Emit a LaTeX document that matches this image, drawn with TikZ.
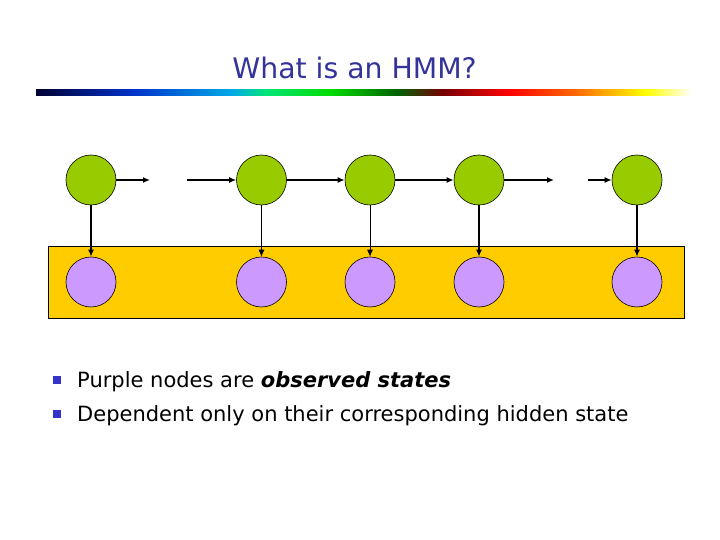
\documentclass[tikz,border=0pt]{standalone}
\usepackage{fontspec}
\setmainfont{DejaVu Sans}
\usetikzlibrary{arrows.meta}
\definecolor{hidgreen}{HTML}{99CC00}
\definecolor{obspurple}{HTML}{CC99FF}
\definecolor{boxyellow}{HTML}{FFCC00}
\definecolor{titleblue}{HTML}{333399}
\definecolor{bulletblue}{HTML}{3333CC}
\pgfdeclarehorizontalshading{rainbowbar}{100bp}{%
rgb(0bp)=(0,0,0.2);
rgb(25bp)=(0,0,0.2);
rgb(32.5bp)=(0,0.2,0.8);
rgb(40bp)=(0,0.67,0.9);
rgb(42.5bp)=(0,0.9,0.47);
rgb(47.5bp)=(0,0.86,0);
rgb(52.5bp)=(0,0.39,0);
rgb(56bp)=(0.47,0,0);
rgb(61bp)=(1,0,0);
rgb(66bp)=(1,0.4,0);
rgb(71.5bp)=(1,1,0);
rgb(75bp)=(1,1,1);
rgb(100bp)=(1,1,1)}
\tikzset{
  hid/.style={circle, draw=black, fill=hidgreen, minimum size=50pt, inner sep=0pt, line width=0.6pt},
  obs/.style={circle, draw=black, fill=obspurple, minimum size=50pt, inner sep=0pt, line width=0.6pt},
  thickarr/.style={-{Latex[length=7pt,width=6pt]}, line width=1.8pt},
  thinarr/.style={-{Latex[length=7pt,width=6pt]}, line width=0.8pt},
  bulletsq/.style={rectangle, fill=bulletblue, minimum size=8pt, inner sep=0pt},
  bodytext/.style={anchor=base west, inner sep=0pt, font=\fontsize{21}{25}\selectfont},
}
\begin{document}
\begin{tikzpicture}[x=1pt,y=-1pt]
\useasboundingbox (0,0) rectangle (720,540);
\node[text=titleblue, font=\fontsize{28.3}{32}\selectfont] (title) at (354.5,68) {What is an HMM?};
\shade[shading=rainbowbar] (36,90) rectangle (692,96);
\node[draw=black, fill=boxyellow, line width=0.8pt, minimum width=636pt, minimum height=72pt, inner sep=0pt] (band) at (366,282) {};
\node[hid] (h1) at (91,180) {};
\node[hid] (h2) at (261.5,180) {};
\node[hid] (h3) at (370,180) {};
\node[hid] (h4) at (479,180) {};
\node[hid] (h5) at (637,180) {};
\node[obs] (o1) at (91,282) {};
\node[obs] (o2) at (261.5,282) {};
\node[obs] (o3) at (370,282) {};
\node[obs] (o4) at (479,282) {};
\node[obs] (o5) at (637,282) {};
\coordinate (e1) at (150,180);
\coordinate (s2) at (187,180);
\coordinate (e4) at (554,180);
\coordinate (s5) at (588,180);
\draw[thickarr] (h1) -- (e1);
\draw[thickarr] (s2) -- (h2);
\draw[thickarr] (h2) -- (h3);
\draw[thickarr] (h3) -- (h4);
\draw[thickarr] (h4) -- (e4);
\draw[thickarr] (s5) -- (h5);
\draw[thickarr] (h1) -- (o1);
\draw[thinarr] (h2) -- (o2);
\draw[thinarr] (h3) -- (o3);
\draw[thickarr] (h4) -- (o4);
\draw[thickarr] (h5) -- (o5);
\node[bulletsq] (b1) at (57,380) {};
\node[bulletsq] (b2) at (57,414) {};
\node[bodytext] (t1) at (77,387) {Purple nodes are \textbf{\textit{observed states}}};
\node[bodytext] (t2) at (77,421) {Dependent only on their corresponding hidden state};
\end{tikzpicture}
\end{document}
